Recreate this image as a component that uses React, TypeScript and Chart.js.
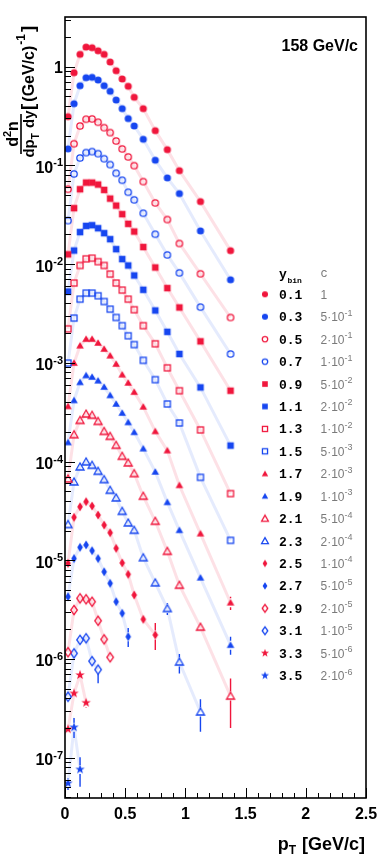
import React, { useEffect, useRef } from "react";
import { Chart, registerables } from "chart.js";

Chart.register(...registerables);

// ---------- data ----------
const PT = [0.025, 0.075, 0.125, 0.175, 0.225, 0.275, 0.325, 0.375, 0.425, 0.475, 0.525, 0.575, 0.65, 0.75, 0.85, 0.95, 1.125, 1.375];

const Y_01 = [0.312, 0.87, 1.335, 1.58, 1.557, 1.45, 1.335, 1.116, 0.911, 0.751, 0.634, 0.49, 0.376, 0.225, 0.1445, 0.0885, 0.043, 0.0137];
const Y_03 = [0.147, 0.422, 0.642, 0.774, 0.781, 0.733, 0.642, 0.564, 0.46, 0.376, 0.298, 0.251, 0.184, 0.113, 0.0747, 0.0518, 0.0217, 0.00694];
const Y_05 = [0.0574, 0.166, 0.251, 0.294, 0.296, 0.274, 0.2415, 0.215, 0.177, 0.147, 0.122, 0.0995, 0.0686, 0.0417, 0.0283, 0.0162, 0.00798, 0.00288];
const Y_07 = [0.0276, 0.082, 0.119, 0.135, 0.138, 0.1316, 0.117, 0.102, 0.0834, 0.0708, 0.0535, 0.0448, 0.0328, 0.0201, 0.0124, 0.00816, 0.00367, 0.00123];
const Y_09 = [0.01257, 0.0369, 0.0574, 0.067, 0.067, 0.064, 0.0565, 0.0461, 0.0392, 0.0321, 0.0256, 0.0214, 0.0149, 0.00925, 0.00572, 0.00364, 0.00165, 0.000522];
const Y_11 = [0.00528, 0.01373, 0.0211, 0.0244, 0.0248, 0.0231, 0.0206, 0.0179, 0.01419, 0.01125, 0.00969, 0.00767, 0.0055, 0.00339, 0.00206, 0.00123, 0.000564, 0.000145];
const Y_13 = [0.00221, 0.00643, 0.00969, 0.01132, 0.0115, 0.0106, 0.00969, 0.00792, 0.00643, 0.00546, 0.00442, 0.00345, 0.00238, 0.00156, 0.00089, 0.000522, 0.000209, 0.0000473];
const Y_15 = [0.000995, 0.00284, 0.00442, 0.00509, 0.00509, 0.00478, 0.00418, 0.0035, 0.00288, 0.00238, 0.00188, 0.00153, 0.00106, 0.000675, 0.000383, 0.000246, 0.0000692, 0.0000159];
const Y_17 = [0.000362, 0.000995, 0.00149, 0.00174, 0.00174, 0.00159, 0.00138, 0.00118, 0.000972, 0.000758, 0.000626, 0.000505, 0.000358, 0.000202, 0.000129, 0.0000574, 0.0000186, 0.00000371];
const Y_19 = [0.000156, 0.000416, 0.000634, 0.000745, 0.000718, 0.000659, 0.000569, 0.000468, 0.000383, 0.00031, 0.000249, 0.000198, 0.000135, 0.0000785, 0.0000386, 0.0000201, 0.00000664, 0.00000138];
const Y_21 = [0.0000667, 0.000187, 0.000261, 0.000303, 0.000294, 0.000255, 0.000202, 0.00018, 0.000146, 0.000113, 0.0000968, 0.0000755, 0.0000445, 0.0000248, 0.0000123, 0.00000558, 0.0000021, 0.00000042];
const Y_23 = [0.000023, 0.0000622, 0.0000882, 0.0000991, 0.0000916, 0.0000796, 0.0000656, 0.0000511, 0.0000428, 0.0000313, 0.0000239, 0.0000201, 0.0000106, 0.0000059, 0.00000324, 0.00000093, 0.00000029];
const Y_25 = [9.3e-6, 2.72e-5, 3.48e-5, 3.92e-5, 3.54e-5, 2.87e-5, 2.27e-5, 1.9e-5, 1.32e-5, 9.4e-6, 7.2e-6, 4.44e-6, 2.52e-6, 1.75e-6];
const Y_27 = [4.27e-6, 1.04e-5, 1.35e-5, 1.43e-5, 1.25e-5, 1.04e-5, 7.64e-6, 5.83e-6, 3.8e-6, 2.9e-6, 1.68e-6];
const Y_29 = [1.17e-6, 3.13e-6, 4.11e-6, 4.02e-6, 3.8e-6, 2.44e-6, 1.58e-6, 1.04e-6];
const Y_31 = [4.14e-7, 1.14e-6, 1.56e-6, 1.62e-6, 9.5e-7, 7.8e-7];
const Y_33 = [1.94e-7, 4.48e-7, 6.87e-7, 3.6e-7];
const Y_35 = [5.5e-8, 2.03e-7, 7.6e-8];

// error bars: [point index, low, high]
const ERR_17 = [[17, 3.13e-6, 4.27e-6]];
const ERR_19 = [[17, 1.1e-6, 1.68e-6]];
const ERR_21 = [[17, 2.0e-7, 6.35e-7]];
const ERR_23 = [[14, 2.79e-6, 3.66e-6], [15, 7.1e-7, 1.12e-6], [16, 1.83e-7, 3.9e-7]];
const ERR_25 = [[13, 1.23e-6, 2.31e-6]];
const ERR_27 = [[10, 1.32e-6, 2.06e-6]];
const ERR_31 = [[5, 5.66e-7, 8.3e-7]];
const ERR_33 = [[0, 1.8e-7, 2.1e-7], [3, 3.2e-7, 4.0e-7]];
const ERR_35 = [[0, 4.7e-8, 6.2e-8], [1, 1.58e-7, 2.52e-7], [2, 5.07e-8, 1.01e-7]];

const Y_BINS = ["0.1", "0.3", "0.5", "0.7", "0.9", "1.1", "1.3", "1.5", "1.7", "1.9", "2.1", "2.3", "2.5", "2.7", "2.9", "3.1", "3.3", "3.5"];
const C_MANT = ["1", "5", "2", "1", "5", "2", "1", "5", "2", "1", "5", "2", "1", "5", "2", "1", "5", "2"];
const C_EXP = ["", "-1", "-1", "-1", "-2", "-2", "-2", "-3", "-3", "-3", "-4", "-4", "-4", "-5", "-5", "-5", "-6", "-6"];

const Y_TICKS = [1, 1e-1, 1e-2, 1e-3, 1e-4, 1e-5, 1e-6, 1e-7];
const Y_TICK_EXP = ["0", "-1", "-2", "-3", "-4", "-5", "-6", "-7"];
const X_TICKS = [0, 0.5, 1, 1.5, 2, 2.5];
const X_TICK_LABELS = ["0", "0.5", "1", "1.5", "2", "2.5"];

const SERIES = [Y_01, Y_03, Y_05, Y_07, Y_09, Y_11, Y_13, Y_15, Y_17, Y_19, Y_21, Y_23, Y_25, Y_27, Y_29, Y_31, Y_33, Y_35];
const ERRORS: Record<number, number[][]> = { 8: ERR_17, 9: ERR_19, 10: ERR_21, 11: ERR_23, 12: ERR_25, 13: ERR_27, 15: ERR_31, 16: ERR_33, 17: ERR_35 };

// ---------- styling ----------
const RED = "rgb(240,22,60)";
const BLUE = "rgb(22,70,240)";
const RED_LINE = "rgba(240,22,60,0.13)";
const BLUE_LINE = "rgba(22,70,240,0.11)";
const SANS = '"Liberation Sans", Arial, Helvetica, sans-serif';
const MONO = '"Liberation Mono", "Courier New", monospace';
const MARKERS = ["circleF", "circleO", "squareF", "squareO", "triF", "triO", "diaF", "diaO", "star"];

function makeMarker(kind: string, color: string, s: number): HTMLCanvasElement {
  const c = document.createElement("canvas");
  const n = 16;
  c.width = n;
  c.height = n;
  const g = c.getContext("2d")!;
  g.translate(n / 2, n / 2);
  g.fillStyle = color;
  g.strokeStyle = color;
  g.lineWidth = 1.3;
  const poly = (pts: number[][], fill: boolean) => {
    g.beginPath();
    pts.forEach((p, i) => (i ? g.lineTo(p[0] * s, p[1] * s) : g.moveTo(p[0] * s, p[1] * s)));
    g.closePath();
    fill ? g.fill() : g.stroke();
  };
  switch (kind) {
    case "circleF":
      g.beginPath(); g.arc(0, 0, 3.6 * s, 0, Math.PI * 2); g.fill(); break;
    case "circleO":
      g.beginPath(); g.arc(0, 0, 3.2 * s, 0, Math.PI * 2); g.stroke(); break;
    case "squareF":
      g.fillRect(-3.3 * s, -3.3 * s, 6.6 * s, 6.6 * s); break;
    case "squareO":
      g.strokeRect(-3.0 * s, -3.0 * s, 6.0 * s, 6.0 * s); break;
    case "triF":
      poly([[0, -3.8], [3.8, 2.8], [-3.8, 2.8]], true); break;
    case "triO":
      poly([[0, -4.0], [4.0, 3.0], [-4.0, 3.0]], false); break;
    case "diaF":
      poly([[0, -4.5], [2.8, 0], [0, 4.5], [-2.8, 0]], true); break;
    case "diaO":
      poly([[0, -4.6], [3.3, 0], [0, 4.6], [-3.3, 0]], false); break;
    case "star": {
      const pts: number[][] = [];
      for (let k = 0; k < 10; k++) {
        const r = k % 2 === 0 ? 5.0 : 2.0;
        const a = -Math.PI / 2 + (k * Math.PI) / 5;
        pts.push([r * Math.cos(a), r * Math.sin(a)]);
      }
      poly(pts, true);
      break;
    }
  }
  return c;
}

type Part = { t: string; size: number; dy?: number; weight?: string; family?: string; color?: string; gap?: number };
function fontOf(p: Part) {
  return `${p.weight ?? "bold"} ${p.size}px ${p.family ?? SANS}`;
}
function richWidth(ctx: CanvasRenderingContext2D, parts: Part[]) {
  let w = 0;
  for (const p of parts) {
    ctx.font = fontOf(p);
    w += ctx.measureText(p.t).width + (p.gap ?? 0);
  }
  return w;
}
function drawRich(ctx: CanvasRenderingContext2D, parts: Part[], x: number, y: number) {
  let cx = x;
  for (const p of parts) {
    ctx.font = fontOf(p);
    ctx.fillStyle = p.color ?? "#000";
    ctx.fillText(p.t, cx, y + (p.dy ?? 0));
    cx += ctx.measureText(p.t).width + (p.gap ?? 0);
  }
}

export default function App() {
  const ref = useRef<HTMLCanvasElement>(null);

  useEffect(() => {
    const canvas = ref.current!;
    const markers = SERIES.map((_, i) => makeMarker(MARKERS[Math.floor(i / 2)], i % 2 ? BLUE : RED, 1));
    const legendMarkers = SERIES.map((_, i) => makeMarker(MARKERS[Math.floor(i / 2)], i % 2 ? BLUE : RED, 0.85));

    const datasets: any[] = [];
    SERIES.forEach((ys, i) => {
      const pts = ys.map((v, k) => ({ x: PT[k], y: v }));
      datasets.push({
        data: pts,
        showLine: true,
        borderColor: i % 2 ? BLUE_LINE : RED_LINE,
        borderWidth: 3,
        pointRadius: 0,
        tension: 0,
        order: 2,
      });
      datasets.push({
        data: pts,
        showLine: false,
        pointStyle: markers[i],
        pointRadius: 4,
        order: 1,
      });
    });

    const decor = {
      id: "decor",
      afterDatasetsDraw(chart: any) {
        const { ctx, scales } = chart;
        const xs = scales.x, ys = scales.y;
        ctx.save();
        ctx.lineWidth = 1.4;
        Object.keys(ERRORS).forEach((key) => {
          const i = Number(key);
          ctx.strokeStyle = i % 2 ? BLUE : RED;
          for (const [idx, lo, hi] of ERRORS[i]) {
            const px = xs.getPixelForValue(PT[idx]);
            const py = ys.getPixelForValue(SERIES[i][idx]);
            const pLo = ys.getPixelForValue(lo);
            const pHi = ys.getPixelForValue(hi);
            const gap = 4.5;
            ctx.beginPath();
            if (pHi < py - gap) { ctx.moveTo(px, pHi); ctx.lineTo(px, py - gap); }
            if (pLo > py + gap) { ctx.moveTo(px, py + gap); ctx.lineTo(px, pLo); }
            ctx.stroke();
          }
        });
        ctx.restore();
      },
      afterDraw(chart: any) {
        const { ctx, chartArea: ca, scales } = chart;
        const xs = scales.x, ys = scales.y;
        ctx.save();
        // frame
        ctx.strokeStyle = "#000";
        ctx.lineWidth = 1.6;
        ctx.strokeRect(ca.left, ca.top, ca.right - ca.left, ca.bottom - ca.top);

        // y ticks
        ctx.lineWidth = 1;
        ctx.beginPath();
        for (let e = -8; e <= 0; e++) {
          for (let m = 1; m <= 9; m++) {
            const v = m * Math.pow(10, e);
            if (v < ys.min || v > ys.max) continue;
            const py = Math.round(ys.getPixelForValue(v)) + 0.5;
            const len = m === 1 ? 10 : 6;
            ctx.moveTo(ca.left, py);
            ctx.lineTo(ca.left + len, py);
          }
        }
        // x ticks
        for (let k = 0; k <= 25; k++) {
          const v = k / 10;
          const px = Math.round(xs.getPixelForValue(v)) + 0.5;
          const len = k % 5 === 0 ? 10 : 5;
          ctx.moveTo(px, ca.bottom);
          ctx.lineTo(px, ca.bottom - len);
        }
        ctx.stroke();

        // y tick labels
        ctx.textBaseline = "alphabetic";
        Y_TICKS.forEach((v, k) => {
          const py = ys.getPixelForValue(v);
          const ex = Y_TICK_EXP[k];
          if (ex === "0") {
            const parts: Part[] = [{ t: "1", size: 16 }];
            const w = richWidth(ctx, parts);
            drawRich(ctx, parts, ca.left - 2 - w, py + 6);
          } else {
            const parts: Part[] = [{ t: "10", size: 16 }, { t: ex, size: 11, dy: -6.5 }];
            const w = richWidth(ctx, parts);
            drawRich(ctx, parts, ca.left - 2 - w, py + 7.5);
          }
        });

        // x tick labels
        X_TICKS.forEach((v, k) => {
          const px = xs.getPixelForValue(v);
          const parts: Part[] = [{ t: X_TICK_LABELS[k], size: 16 }];
          const w = richWidth(ctx, parts);
          drawRich(ctx, parts, px - w / 2, ca.bottom + 20.5);
        });

        // x title
        const xt: Part[] = [{ t: "p", size: 18 }, { t: "T", size: 12, dy: 4, gap: 1 }, { t: " [GeV/c]", size: 18 }];
        const xtw = richWidth(ctx, xt);
        drawRich(ctx, xt, ca.right - 1 - xtw, ca.bottom + 52);

        // y title (rotated)
        ctx.save();
        ctx.translate(0, 134);
        ctx.rotate(-Math.PI / 2);
        const num: Part[] = [{ t: "d", size: 16 }, { t: "2", size: 11, dy: -7 }, { t: "n", size: 16 }];
        let w = richWidth(ctx, num);
        drawRich(ctx, num, -w / 2, 18);
        ctx.fillStyle = "#000";
        ctx.fillRect(-20, 20.2, 40, 1.6);
        const den: Part[] = [{ t: "dp", size: 15 }, { t: "T", size: 10, dy: 4.5, gap: 1 }, { t: " dy", size: 15 }];
        w = richWidth(ctx, den);
        drawRich(ctx, den, -w / 2, 34);
        const br: Part[] = [
          { t: "[", size: 19, gap: 2 },
          { t: "(GeV/c)", size: 16, gap: 1 },
          { t: "-1", size: 12, dy: -9.5, gap: 2 },
          { t: "]", size: 19 },
        ];
        drawRich(ctx, br, 24, 34);
        ctx.restore();

        // energy label
        const el: Part[] = [{ t: "158 GeV/c", size: 16 }];
        const elw = richWidth(ctx, el);
        drawRich(ctx, el, 358 - elw, 51);

        // legend
        const lx = 265;
        const ly0 = 294.3;
        const dyRow = 22.43;
        drawRich(ctx, [{ t: "y", size: 13, family: MONO }], 279, 278);
        drawRich(ctx, [{ t: "bin", size: 8, family: MONO }], 287.5, 282.5);
        drawRich(ctx, [{ t: "c", size: 12, family: MONO, weight: "normal", color: "#777" }], 320.5, 277);
        SERIES.forEach((_, i) => {
          const y = ly0 + i * dyRow;
          const m = legendMarkers[i];
          ctx.drawImage(m, lx - m.width / 2, y - m.height / 2);
          drawRich(ctx, [{ t: Y_BINS[i], size: 13, family: MONO }], 279, y + 4.5);
          const cParts: Part[] = C_EXP[i]
            ? [
                { t: C_MANT[i] + "\u00b710", size: 12, weight: "normal", color: "#7a7a7a" },
                { t: C_EXP[i], size: 9, weight: "normal", color: "#7a7a7a", dy: -5.5 },
              ]
            : [{ t: C_MANT[i], size: 12, weight: "normal", color: "#7a7a7a" }];
          drawRich(ctx, cParts, 320.5, y + 4.5);
        });
        ctx.restore();
      },
    };

    const chart = new Chart(canvas, {
      type: "scatter",
      data: { datasets },
      options: {
        responsive: false,
        animation: false,
        devicePixelRatio: 1,
        events: [],
        layout: { padding: { left: 65, top: 17, right: 20, bottom: 70 } },
        plugins: { legend: { display: false }, tooltip: { enabled: false } },
        scales: {
          x: { type: "linear", min: 0, max: 2.5, display: false },
          y: { type: "logarithmic", min: 3.9e-8, max: 3.19, display: false },
        },
      } as any,
      plugins: [decor],
    });
    return () => chart.destroy();
  }, []);

  return (
    <div style={{ position: "absolute", left: 0, top: 0, width: 386, height: 868, background: "#fff" }}>
      <canvas ref={ref} width={386} height={868} style={{ width: 386, height: 868, display: "block" }} />
    </div>
  );
}
